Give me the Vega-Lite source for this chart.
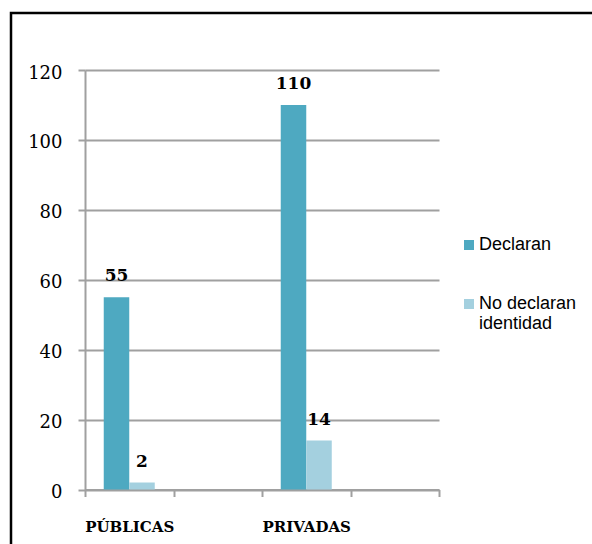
{
  "$schema": "https://vega.github.io/schema/vega-lite/v6.json",
  "width": 611,
  "height": 561,
  "autosize": {"type": "none"},
  "padding": {"left": 11, "top": 13, "right": -30, "bottom": -30},
  "background": "white",
  "config": {
    "view": {"stroke": "black", "strokeWidth": 2.5, "fill": "white"}
  },
  "data": {
    "values": [
      {"categoria": "PÚBLICAS", "grupo": "Declaran", "valor": 55},
      {"categoria": "PÚBLICAS", "grupo": "No declaran identidad", "valor": 2},
      {"categoria": "PRIVADAS", "grupo": "Declaran", "valor": 110},
      {"categoria": "PRIVADAS", "grupo": "No declaran identidad", "valor": 14}
    ]
  },
  "encoding": {
    "x": {
      "field": "categoria",
      "type": "nominal",
      "title": null,
      "scale": {
        "domain": ["PÚBLICAS", " ", "PRIVADAS", "  "],
        "range": [74, 428],
        "paddingInner": 0,
        "paddingOuter": 0
      },
      "axis": {
        "offset": -84.5,
        "tickBand": "extent",
        "grid": false,
        "domainColor": "#A0A0A0",
        "domainWidth": 2,
        "tickColor": "#A0A0A0",
        "tickWidth": 2,
        "tickSize": 7,
        "labelAngle": 0,
        "labelFont": "DejaVu Serif",
        "labelFontWeight": "bold",
        "labelFontSize": 15,
        "labelColor": "black",
        "labelPadding": 22.5
      }
    },
    "xOffset": {
      "field": "grupo",
      "type": "nominal",
      "scale": {
        "domain": ["Declaran", "No declaran identidad"],
        "paddingInner": 0,
        "paddingOuter": 0.735
      }
    },
    "y": {
      "field": "valor",
      "type": "quantitative",
      "title": null,
      "scale": {"domain": [0, 120], "range": [476.5, 57], "nice": false},
      "axis": {
        "offset": -74,
        "values": [0, 20, 40, 60, 80, 100, 120],
        "grid": true,
        "gridColor": "#A0A0A0",
        "gridWidth": 2,
        "domainColor": "#A0A0A0",
        "domainWidth": 2,
        "tickColor": "#A0A0A0",
        "tickWidth": 2,
        "tickSize": 7,
        "labelFont": "DejaVu Serif",
        "labelFontSize": 18,
        "labelColor": "black",
        "labelPadding": 16,
        "labelOffset": 3
      }
    }
  },
  "layer": [
    {
      "mark": {"type": "bar"},
      "encoding": {
        "color": {
          "field": "grupo",
          "type": "nominal",
          "scale": {
            "domain": ["Declaran", "No declaran identidad"],
            "range": ["#4EA9C1", "#A4D0DF"]
          },
          "legend": {
            "orient": "none",
            "legendX": 449,
            "legendY": 223,
            "title": null,
            "padding": 0,
            "symbolType": "square",
            "symbolSize": 100,
            "symbolStrokeWidth": 0,
            "labelFont": "Liberation Sans",
            "labelFontSize": 18,
            "labelColor": "black",
            "labelOffset": 1,
            "rowPadding": 41,
            "labelExpr": "datum.label == 'No declaran identidad' ? ['No declaran', 'identidad'] : datum.label"
          }
        }
      }
    },
    {
      "mark": {
        "type": "text",
        "font": "DejaVu Serif",
        "fontWeight": "bold",
        "fontSize": 17,
        "baseline": "alphabetic",
        "dy": -16,
        "color": "black"
      },
      "encoding": {
        "text": {"field": "valor", "type": "quantitative"}
      }
    }
  ]
}
